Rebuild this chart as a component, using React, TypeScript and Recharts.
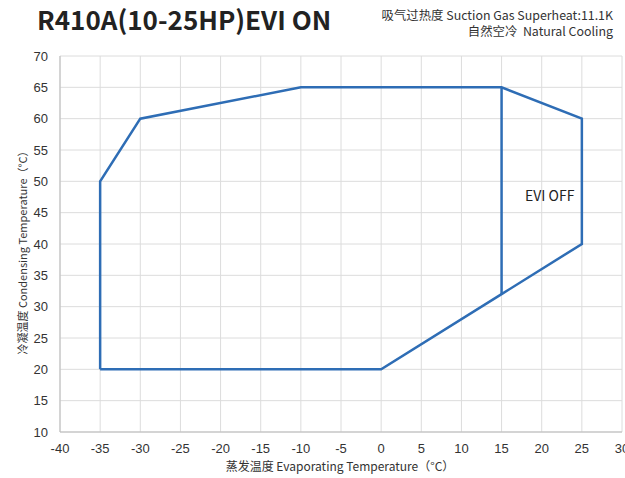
import React from "react";
import { LineChart, Line, XAxis, YAxis, CartesianGrid, ReferenceDot } from "recharts";

const envelopeX = [-35, -35, -30, -10, 15, 25, 25, 15, 0, -35];
const envelopeY = [20, 50, 60, 65, 65, 60, 40, 32, 20, 20];
const dividerX = [15, 15];
const dividerY = [65, 32];
const xTicks = [-40, -35, -30, -25, -20, -15, -10, -5, 0, 5, 10, 15, 20, 25, 30];
const yTicks = [10, 15, 20, 25, 30, 35, 40, 45, 50, 55, 60, 65, 70];

const envelope = envelopeX.map((x, i) => ({ x, y: envelopeY[i] }));
const divider = dividerX.map((x, i) => ({ x, y: dividerY[i] }));

const LINE = "#2E6DB5";
const CJK = "'Noto Sans CJK SC', 'Noto Sans', sans-serif";

export default function App() {
  return (
    <div style={{ position: "absolute", left: 0, top: 0, width: 625, height: 478, background: "#fff", overflow: "hidden" }}>
      <div style={{ position: "absolute", left: 37, top: 0, fontFamily: CJK, fontWeight: 700, fontSize: 26, color: "#222", whiteSpace: "nowrap" }}>
        R410A(10-25HP)EVI ON
      </div>
      <div style={{ position: "absolute", right: 12, top: 7, fontFamily: CJK, fontSize: 12.4, color: "#333", textAlign: "right", lineHeight: "16px", whiteSpace: "pre" }}>
        {"吸气过热度 Suction Gas Superheat:11.1K\n自然空冷  Natural Cooling"}
      </div>
      <LineChart width={625} height={478} data={envelope} margin={{ top: 56, right: 3, bottom: 16, left: 0 }}>
        <CartesianGrid stroke="#dcdcdc" strokeWidth={1} />
        <XAxis
          dataKey="x"
          type="number"
          domain={[-40, 30]}
          ticks={xTicks}
          interval={0}
          allowDataOverflow
          stroke="#bbb"
          tickLine={false}
          tickMargin={6}
          height={30}
          tick={{ fill: "#333", fontSize: 13, fontFamily: "'Liberation Sans', Arial, sans-serif" }}
        />
        <YAxis
          dataKey="y"
          type="number"
          domain={[10, 70]}
          ticks={yTicks}
          interval={0}
          width={60}
          stroke="#bbb"
          tickLine={false}
          tickMargin={6}
          tick={{ fill: "#333", fontSize: 13, fontFamily: "'Liberation Sans', Arial, sans-serif" }}
        />
        <Line data={envelope} dataKey="y" stroke={LINE} strokeWidth={2.5} dot={false} isAnimationActive={false} strokeLinejoin="miter" />
        <Line data={divider} dataKey="y" stroke={LINE} strokeWidth={2.5} dot={false} isAnimationActive={false} />
        <ReferenceDot
          x={21}
          y={47.7}
          r={0}
          stroke="none"
          fill="none"
          label={{ value: "EVI OFF", position: "center", fill: "#222", fontSize: 14, fontFamily: CJK }}
        />
      </LineChart>
      <div style={{ position: "absolute", left: 0, width: 680, top: 457, textAlign: "center", fontFamily: CJK, fontSize: 12, color: "#333", whiteSpace: "nowrap" }}>
        蒸发温度 Evaporating Temperature（°C）
      </div>
      <div style={{ position: "absolute", left: 22, top: 250, width: 300, marginLeft: -150, marginTop: -8, textAlign: "center", transform: "rotate(-90deg)", fontFamily: CJK, fontSize: 11, color: "#333", whiteSpace: "nowrap", lineHeight: "16px" }}>
        冷凝温度 Condensing Temperature（°C）
      </div>
    </div>
  );
}
